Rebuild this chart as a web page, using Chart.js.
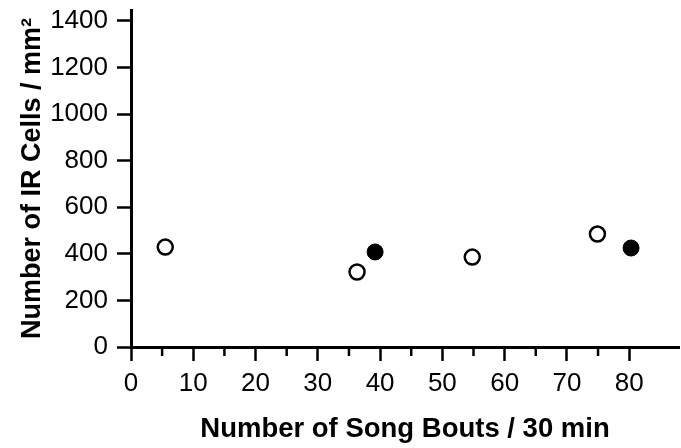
<!DOCTYPE html>
<html>
<head>
<meta charset="utf-8">
<script src="https://cdn.jsdelivr.net/npm/chart.js@4.4.1/dist/chart.umd.min.js"></script>
<style>
  html, body { margin: 0; padding: 0; background: #fff; }
</style>
</head>
<body>
<canvas id="songChart" width="681" height="448"></canvas>
<script>
// Data
const openBouts = [5.5, 36.3, 54.8, 74.9];
const openCells = [429, 322, 386, 485];
const filledBouts = [39.2, 80.3];
const filledCells = [408, 425];

// Tick labels
const xTickValues = [0, 10, 20, 30, 40, 50, 60, 70, 80];
const xMinorTicks = [5, 15, 25, 35, 45, 55, 65, 75];
const yTickValues = [0, 200, 400, 600, 800, 1000, 1200, 1400];

Chart.defaults.font.family = '"Liberation Sans", Arial, sans-serif';
Chart.defaults.color = '#000';

// short ticks at the 5s on the x axis
const minorTicks = {
    id: 'minorTicks',
    afterDraw(chart) {
        const xScale = chart.scales.x;
        const ctx = chart.ctx;
        const y0 = chart.chartArea.bottom;
        ctx.save();
        ctx.strokeStyle = '#000';
        ctx.lineWidth = 2.5;
        xMinorTicks.forEach(v => {
            const px = xScale.getPixelForValue(v);
            ctx.beginPath();
            ctx.moveTo(px, y0);
            ctx.lineTo(px, y0 + 9);
            ctx.stroke();
        });
        ctx.restore();
    }
};

const toPoints = (xs, ys) => xs.map((x, i) => ({ x: x, y: ys[i] }));

const ctx = document.getElementById('songChart').getContext('2d');
new Chart(ctx, {
    type: 'scatter',
    data: {
        datasets: [{
            data: toPoints(openBouts, openCells),
            pointRadius: 7.5,
            pointBorderWidth: 2.5,
            pointBackgroundColor: '#fff',
            pointBorderColor: '#000'
        }, {
            data: toPoints(filledBouts, filledCells),
            pointRadius: 8,
            pointBorderWidth: 1,
            pointBackgroundColor: '#000',
            pointBorderColor: '#000'
        }]
    },
    options: {
        responsive: false,
        animation: false,
        layout: { autoPadding: false, padding: { top: 10, right: 2, bottom: 0, left: 0 } },
        plugins: {
            legend: { display: false },
            tooltip: { enabled: false }
        },
        scales: {
            x: {
                type: 'linear',
                min: 0,
                max: 88,
                afterBuildTicks: s => { s.ticks = xTickValues.map(v => ({ value: v })); },
                afterFit: s => { s.height = 101; },
                border: { display: true, color: '#000', width: 3 },
                grid: { drawOnChartArea: false, color: '#000', tickLength: 14, tickWidth: 2.5 },
                ticks: { font: { size: 26 }, padding: 7, maxRotation: 0, callback: v => String(v) },
                title: {
                    display: true,
                    text: 'Number of Song Bouts / 30 min',
                    font: { size: 27.5, weight: 'bold' },
                    padding: { top: 10, bottom: 2.5 }
                }
            },
            y: {
                type: 'linear',
                min: 0,
                max: 1447,
                afterBuildTicks: s => { s.ticks = yTickValues.map(v => ({ value: v })); },
                afterFit: s => { s.width = 131; s.paddingTop = 0; },
                border: { display: true, color: '#000', width: 3 },
                grid: { drawOnChartArea: false, color: '#000', tickLength: 14, tickWidth: 2.5 },
                ticks: { font: { size: 26 }, padding: 9, callback: v => String(v) },
                title: {
                    display: true,
                    text: 'Number of IR Cells / mm²',
                    font: { size: 27, weight: 'bold' },
                    padding: { top: 16.8, bottom: 0 }
                }
            }
        }
    },
    plugins: [minorTicks]
});
</script>
</body>
</html>
